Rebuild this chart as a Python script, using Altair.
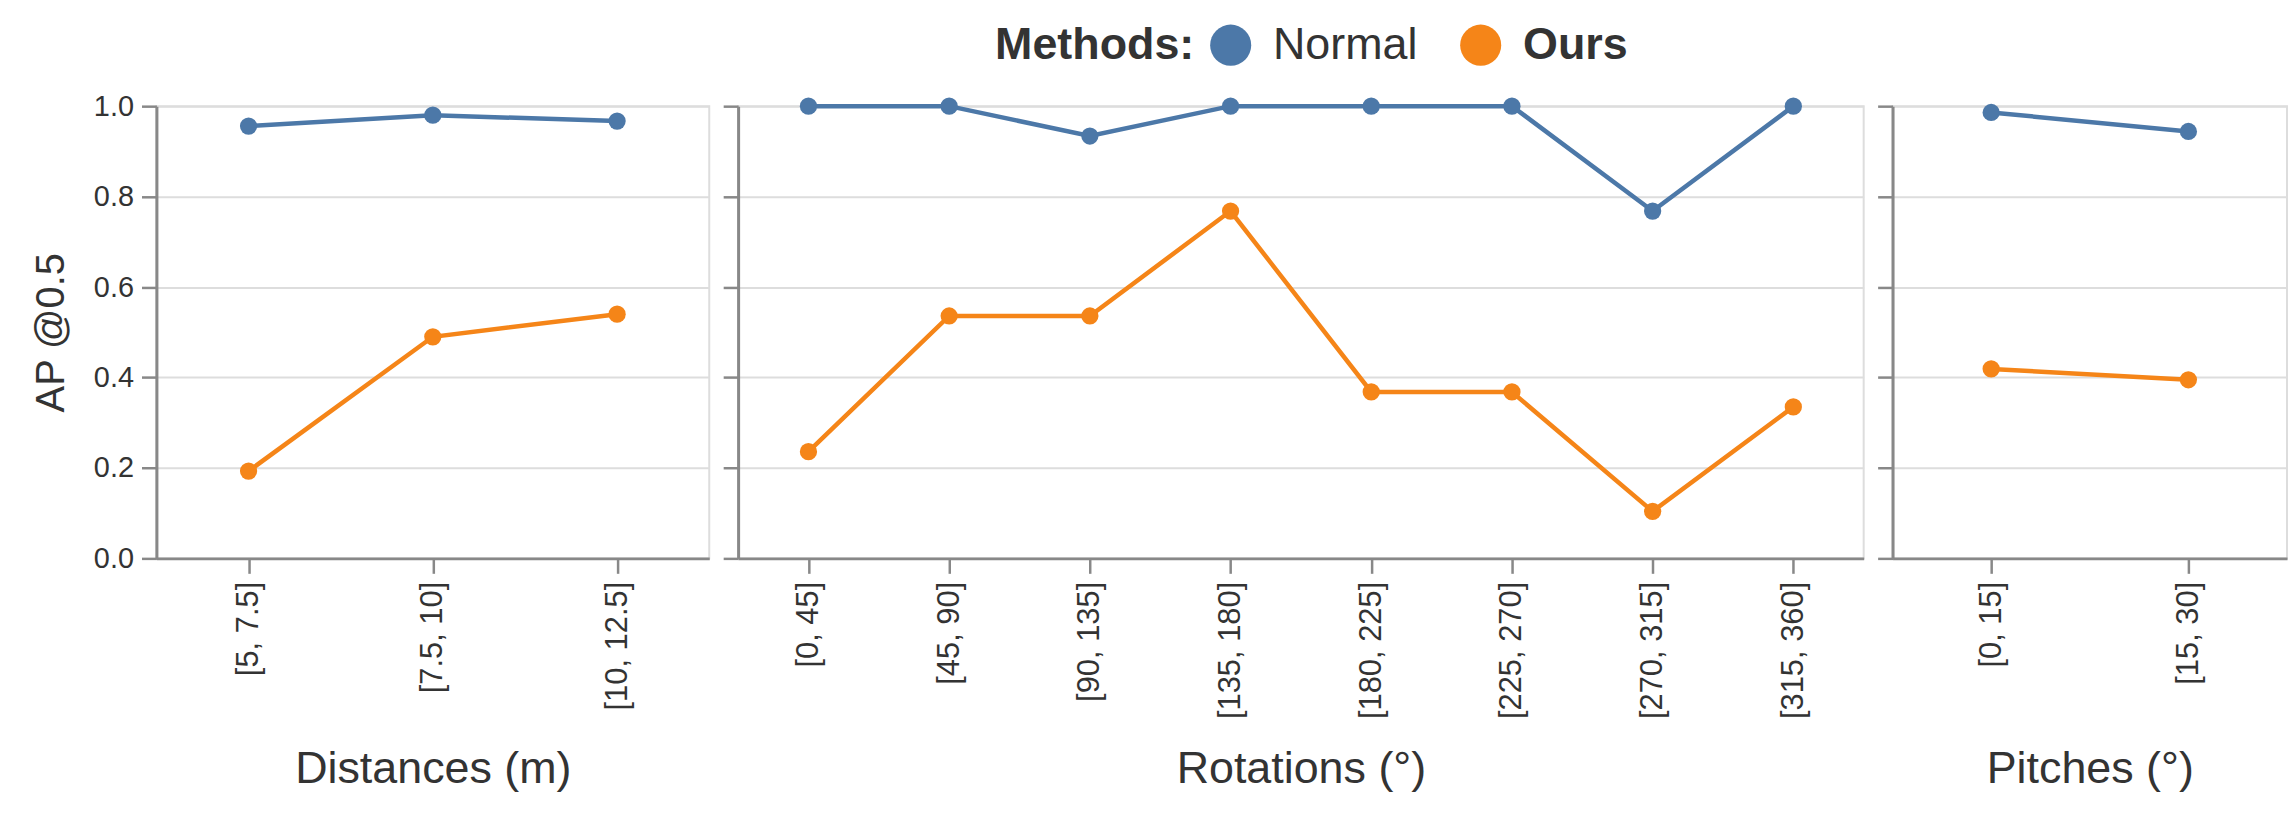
import altair as alt
import pandas as pd

methods = ["Normal", "Ours"]
colors = ["#4c78a8", "#f58518"]

dist_cats = ["[5, 7.5]", "[7.5, 10]", "[10, 12.5]"]
dist_normal = [0.956, 0.980, 0.967]
dist_ours = [0.193, 0.490, 0.540]

rot_cats = ["[0, 45]", "[45, 90]", "[90, 135]", "[135, 180]",
            "[180, 225]", "[225, 270]", "[270, 315]", "[315, 360]"]
rot_normal = [1.0, 1.0, 0.934, 1.0, 1.0, 1.0, 0.768, 1.0]
rot_ours = [0.236, 0.536, 0.536, 0.768, 0.368, 0.368, 0.104, 0.335]

pitch_cats = ["[0, 15]", "[15, 30]"]
pitch_normal = [0.986, 0.944]
pitch_ours = [0.419, 0.395]

y_ticks = [0.0, 0.2, 0.4, 0.6, 0.8, 1.0]


def make_df(cats, normal, ours):
    rows = []
    for c, n, o in zip(cats, normal, ours):
        rows.append({"cat": c, "method": methods[0], "ap": n})
        rows.append({"cat": c, "method": methods[1], "ap": o})
    return pd.DataFrame(rows)


color = alt.Color(
    "method:N",
    scale=alt.Scale(domain=methods, range=colors),
    legend=alt.Legend(
        title="Methods:",
        orient="none",
        legendX=842,
        legendY=-84,
        direction="horizontal",
        titleOrient="left",
        titleFontSize=45,
        titleFontWeight="bold",
        titlePadding=14,
        titleBaseline="middle",
        titleLimit=1000,
        labelFontSize=45,
        labelLimit=1000,
        labelFontWeight={"expr": "datum.label == 'Ours' ? 'bold' : 'normal'"},
        labelOffset=20,
        columnPadding=40,
        symbolType="circle",
        symbolSize=1700,
        symbolStrokeWidth=0,
        symbolOpacity=1,
    ),
)


def panel(cats, normal, ours, title, width, first):
    df = make_df(cats, normal, ours)
    if first:
        yaxis = alt.Axis(title="AP @0.5", values=y_ticks, format=".1f",
                         titleFontSize=40, titlePadding=22, labelFontSize=29)
    else:
        yaxis = alt.Axis(title=None, values=y_ticks, labels=False)
    return (
        alt.Chart(df)
        .mark_line(point=alt.OverlayMarkDef(filled=True, size=300), strokeWidth=4.5)
        .encode(
            x=alt.X("cat:O", sort=cats, title=title,
                    axis=alt.Axis(labelAngle=-90, labelFontSize=31,
                                  titleBaseline="alphabetic", titleY=225)),
            y=alt.Y("ap:Q", scale=alt.Scale(domain=[0, 1]), axis=yaxis),
            color=color,
        )
        .properties(width=width, height=454)
    )


p1 = panel(dist_cats, dist_normal, dist_ours, "Distances (m)", 555, True)
p2 = panel(rot_cats, rot_normal, rot_ours, "Rotations (°)", 1130, False)
p3 = panel(pitch_cats, pitch_normal, pitch_ours, "Pitches (°)", 396, False)

chart = (
    alt.hconcat(p1, p2, p3, spacing=10)
    .properties(padding={"left": 22, "top": 13, "right": 0, "bottom": 0})
    .configure(font="Liberation Sans")
    .configure_view(stroke="#ddd", strokeWidth=2)
    .configure_axis(
        labelFontSize=29,
        titleFontSize=45,
        titleFontWeight="normal",
        labelColor="#333",
        titleColor="#333",
        tickSize=15,
        tickWidth=2.5,
        tickColor="#888",
        domainColor="#888",
        domainWidth=3,
        gridColor="#ddd",
        gridWidth=2,
        labelPadding=8,
    )
    .configure_legend(labelColor="#333", titleColor="#333")
)

chart.save("out.html", embed_options={"renderer": "svg", "actions": False})
